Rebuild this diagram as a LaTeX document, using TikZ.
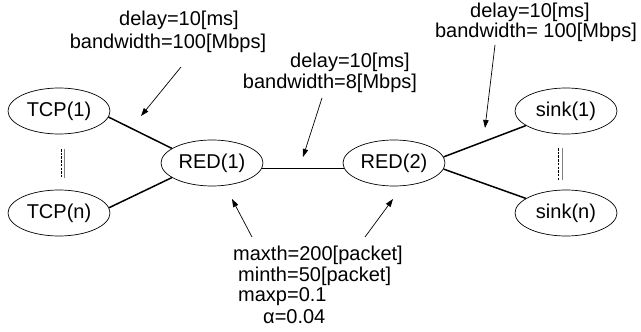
\documentclass[tikz,border=0pt]{standalone}
\usepackage{fontspec}
\setmainfont{Liberation Sans}
\usetikzlibrary{arrows.meta,shapes.geometric}
\begin{document}
\begin{tikzpicture}[x=1pt,y=-1pt,
  hostnode/.style={draw,ellipse,line width=0.7pt,minimum width=102pt,minimum height=46pt,inner sep=0pt,font=\fontsize{20}{22}\selectfont},
  lbl/.style={inner sep=0pt,font=\fontsize{20}{22}\selectfont},
  link/.style={line width=1.5pt},
  note/.style={line width=0.7pt,-{Triangle[length=8pt,width=5.5pt]}},
  dots/.style={line width=0.5pt,dash pattern=on 2.5pt off 1.2pt},
  solidthin/.style={line width=0.5pt,gray}]
\useasboundingbox (0,0) rectangle (641,332);
% hosts
\node[hostnode] (t1) at (59,111) {TCP(1)};
\node[hostnode] (tn) at (59,213) {TCP(n)};
\node[hostnode] (r1) at (212,163) {RED(1)};
\node[hostnode] (r2) at (394,163) {RED(2)};
\node[hostnode] (s1) at (566,111) {sink(1)};
\node[hostnode] (sn) at (566,213) {sink(n)};
% links
\draw[link] (t1.-7) -- (r1.160);
\draw[link] (tn.6) -- (r1.200);
\draw[link] (r1.-6) -- (r2.186);
\draw[link] (r2.7) -- (s1.200);
\draw[link] (r2.-7) -- (sn.160);
% ellipsis marks
\coordinate (la1) at (61,149); \coordinate (la2) at (61,178);
\coordinate (lb1) at (64.5,149); \coordinate (lb2) at (64.5,178);
\coordinate (ra1) at (558,148); \coordinate (ra2) at (558,180);
\coordinate (rb1) at (562,148); \coordinate (rb2) at (562,180);
\draw[dots] (la1) -- (la2);
\draw[solidthin] (lb1) -- (lb2);
\draw[dots] (ra1) -- (ra2);
\draw[solidthin] (rb1) -- (rb2);
% labels
\node[lbl] (l1a) at (179,20) {delay=10[ms]};
\node[lbl] (l1b) at (168,43) {bandwidth=100[Mbps]};
\node[lbl] (l2a) at (350,62) {delay=10[ms]};
\node[lbl] (l2b) at (330,83) {bandwidth=8[Mbps]};
\node[lbl] (l3a) at (530,12) {delay=10[ms]};
\node[lbl] (l3b) at (536,32) {bandwidth= 100[Mbps]};
\node[lbl,anchor=west] (p1) at (233,255) {maxth=200[packet]};
\node[lbl,anchor=west] (p2) at (238,276) {minth=50[packet]};
\node[lbl,anchor=west] (p3) at (238,297) {maxp=0.1};
\node[lbl,anchor=west] (p4) at (263,317) {α=0.04};
% annotation arrows
\coordinate (a1s) at (181,67); \coordinate (a1e) at (141,116);
\coordinate (a2s) at (322,98); \coordinate (a2e) at (303,157);
\coordinate (a3s) at (495,45); \coordinate (a3e) at (485,128);
\coordinate (a4s) at (252,237); \coordinate (a4e) at (232,199);
\coordinate (a5s) at (365,237); \coordinate (a5e) at (393,199);
\draw[note] (a1s) -- (a1e);
\draw[note] (a2s) -- (a2e);
\draw[note] (a3s) -- (a3e);
\draw[note] (a4s) -- (a4e);
\draw[note] (a5s) -- (a5e);
\end{tikzpicture}
\end{document}
